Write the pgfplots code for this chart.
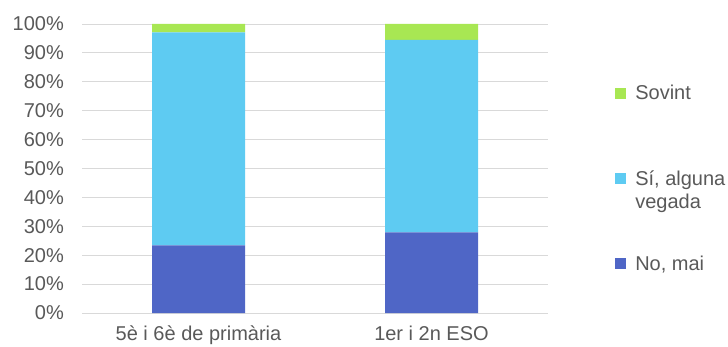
\documentclass[border=0pt]{standalone}
\usepackage{fontspec}
\setmainfont{Liberation Sans}
\usepackage{pgfplots}
\pgfplotsset{compat=1.18}
\definecolor{nomai}{RGB}{79,102,198}
\definecolor{sialg}{RGB}{94,203,242}
\definecolor{sovint}{RGB}{168,231,83}
\definecolor{txt}{RGB}{89,89,89}
\definecolor{grd}{RGB}{217,217,217}
\pgfplotsset{sqlegend/.style={legend image code/.code={\fill[##1,draw=none] (0pt,-5.5pt) rectangle (11pt,5.5pt);}}}
\begin{document}
\begin{tikzpicture}
\path[use as bounding box] (0,0) rectangle (728pt,346pt);
\begin{axis}[
  at={(82pt,33pt)}, anchor=south west,
  width=466pt, height=289pt, scale only axis,
  ybar stacked, bar width=93pt,
  xmin=-0.5, xmax=1.5, ymin=0, ymax=100,
  xtick={0,1}, xticklabels={5è i 6è de primària,1er i 2n ESO},
  ytick={0,10,...,100},
  yticklabel={\pgfmathprintnumber{\tick}\%},
  /pgf/number format/assume math mode=true,
  axis line style={draw=none},
  major tick length=0pt,
  ymajorgrids, grid style={grd, line width=0.9pt},
  tick label style={font=\fontsize{20}{24}\selectfont, text=txt},
  yticklabel style={anchor=east, inner sep=0pt, xshift=-18pt},
  xticklabel style={anchor=north, inner sep=0pt, yshift=-13pt},
  legend style={draw=none, fill=none, at={(1.144,0.795)}, anchor=north west,
    inner sep=0pt, row sep=65pt, column sep=7pt, font=\fontsize{20}{23}\selectfont, text=txt,
    cells={anchor=west}},
  legend cell align=left,
  reverse legend,
]
\addplot[fill=nomai, draw=none, sqlegend] coordinates {(0,23.4) (1,27.9)};
\addlegendentry{No, mai}
\addplot[fill=sialg, draw=none, sqlegend] coordinates {(0,73.7) (1,66.6)};
\addlegendentry{\raisebox{0pt}[\height][0pt]{\parbox[t]{100pt}{Sí, alguna\\vegada}}}
\addplot[fill=sovint, draw=none, sqlegend] coordinates {(0,2.9) (1,5.5)};
\addlegendentry{Sovint}
\end{axis}
\end{tikzpicture}
\end{document}
